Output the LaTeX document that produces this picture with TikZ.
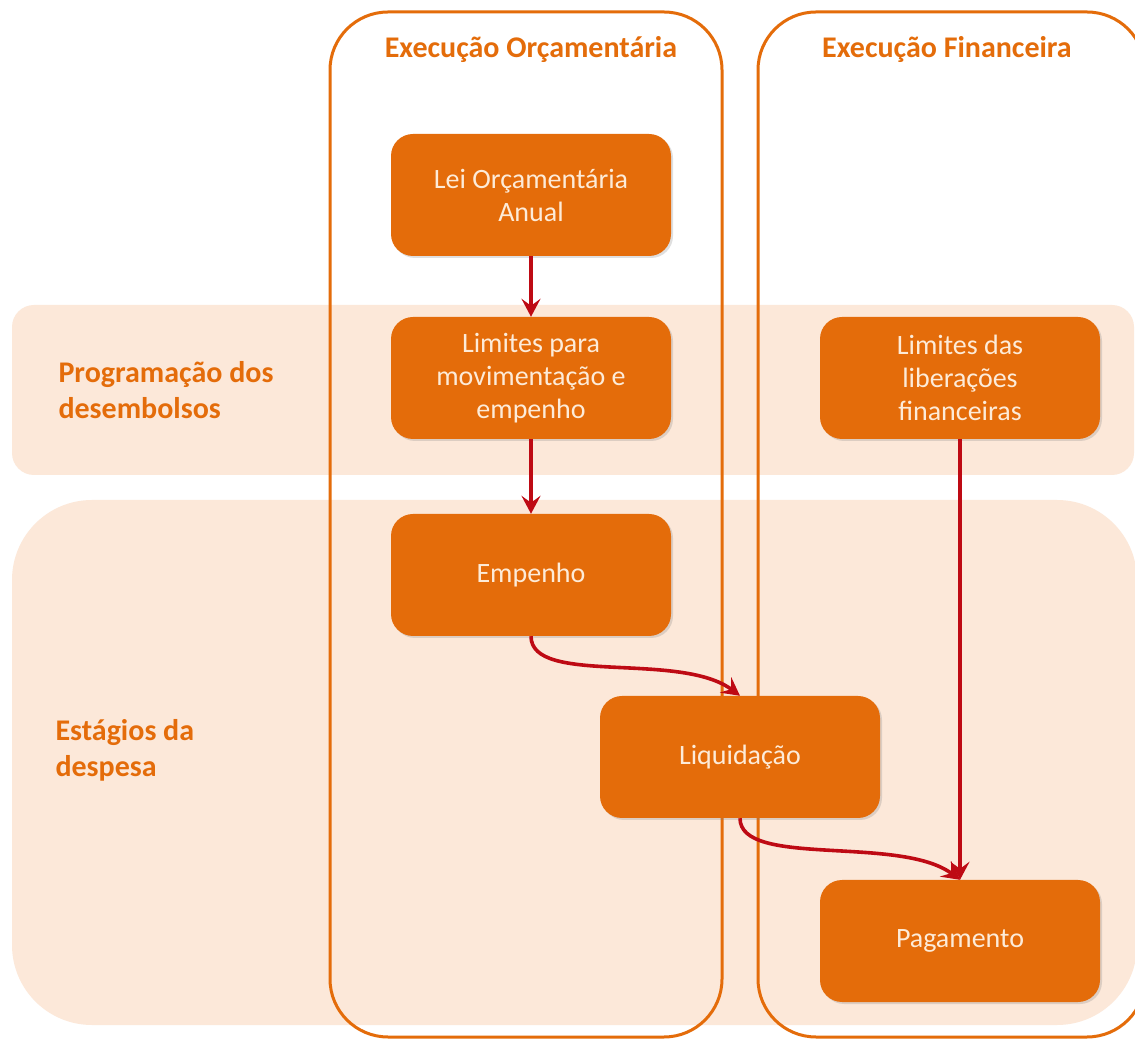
\documentclass[tikz,border=0pt]{standalone}
\usepackage{fontspec}
\setmainfont{Carlito}
\usetikzlibrary{arrows.meta,shadows}

\definecolor{laranja}{HTML}{E46C0A}
\definecolor{pessego}{HTML}{FCE8D9}
\definecolor{creme}{HTML}{FDEBD8}
\definecolor{vinho}{HTML}{BE0A14}

\tikzset{
  caixa/.style={fill=laranja, text=creme, rounded corners=22pt, minimum width=280pt, minimum height=122pt,
    align=center, font=\fontsize{28}{33}\selectfont,
    drop shadow={opacity=.25, shadow xshift=2pt, shadow yshift=-2pt}},
  coluna/.style={draw=laranja, line width=3pt, rounded corners=58pt},
  faixa/.style={fill=pessego},
  rotulo/.style={text=laranja, font=\fontsize{30}{36}\selectfont\bfseries, align=left},
  titulo/.style={text=laranja, font=\fontsize{30}{36}\selectfont\bfseries},
  seta/.style={draw=vinho, line width=3.6pt, -{Stealth[length=18pt,width=19pt,inset=7pt]}},
}

\begin{document}
\begin{tikzpicture}[x=1pt,y=1pt]
  \clip (0,0) rectangle (1135,1039);
  \fill[white] (0,0) rectangle (1135,1039);

  % faixas de fundo
  \fill[faixa, rounded corners=22pt] (12,564) rectangle (1134,734);
  \fill[faixa, rounded corners=80pt] (12,14) rectangle (1137,539);
  \node[rotulo, anchor=west] (prog) at (55,649) {Programação dos\\desembolsos};
  \node[rotulo, anchor=west] (estag) at (52,289) {Estágios da\\despesa};

  % colunas
  \draw[coluna] (330,2) rectangle (722,1027);
  \draw[coluna] (758,2) rectangle (1145,1027);
  \node[titulo] (orc) at (531,989) {Execução Orçamentária};
  \node[titulo] (fin) at (947,989) {Execução Financeira};

  % caixas
  \node[caixa] (lei) at (531,844) {Lei Orçamentária\\Anual};
  \node[caixa] (limmov) at (531,661) {Limites para\\movimentação e\\empenho};
  \node[caixa] (limlib) at (960,661) {Limites das\\liberações\\financeiras};
  \node[caixa] (emp) at (531,464) {Empenho};
  \node[caixa] (liq) at (740,282) {Liquidação};
  \node[caixa] (pag) at (960,98) {Pagamento};

  % setas
  \draw[seta] (lei) -- (limmov);
  \draw[seta] (limmov) -- (emp);
  \draw[seta] (emp.south) .. controls +(0,-50) and +(-60,45) .. (liq.north);
  \draw[seta] (liq.south) .. controls +(0,-50) and +(-60,45) .. (pag.north);
  \draw[seta] (limlib) -- (pag);
\end{tikzpicture}
\end{document}
